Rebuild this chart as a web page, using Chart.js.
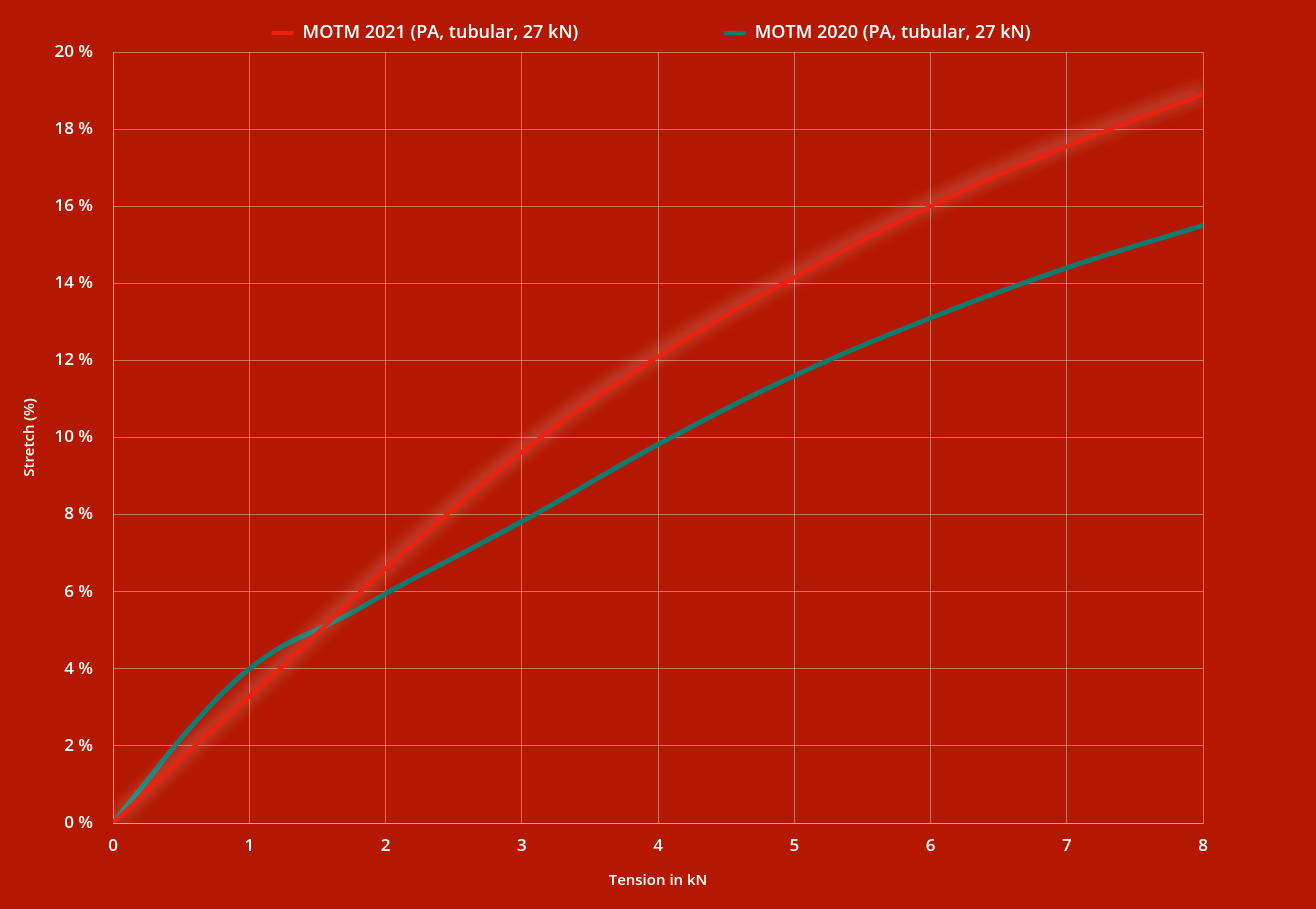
<!DOCTYPE html>
<html>
<head>
<meta charset="utf-8">
<script src="https://cdn.jsdelivr.net/npm/chart.js@4"></script>
<style>
  html, body { margin: 0; padding: 0; background: #b41800; }
  #wrap { width: 1316px; height: 909px; }
</style>
</head>
<body>
<div id="wrap"><canvas id="stretch-chart"></canvas></div>
<script>
    "use strict";

    // Data
    var tension   = [0, 0.25, 0.5, 0.75, 1, 1.25, 1.5, 1.75, 2, 3, 4, 5, 6, 7, 8];
    var motm2021  = [0, 0.83, 1.67, 2.48, 3.28, 4.08, 4.93, 5.77, 6.6, 9.62, 12.1, 14.15, 16.0, 17.55, 18.9];
    var motm2020  = [0, 1.1, 2.2, 3.18, 4.0, 4.6, 5.02, 5.45, 5.95, 7.82, 9.82, 11.6, 13.1, 14.4, 15.5];
    var seriesNames = ["MOTM 2021 (PA, tubular, 27 kN)", "MOTM 2020 (PA, tubular, 27 kN)"];
    var xTicks = [0, 1, 2, 3, 4, 5, 6, 7, 8];
    var yTicks = [0, 2, 4, 6, 8, 10, 12, 14, 16, 18, 20];

    var RED = "#ee2010";
    var TEAL = "#0e7b71";
    var GRID = "rgba(255, 255, 255, 0.38)";
    var FONT = "'Open Sans'";

    function toPoints(xs, ys) {
        return xs.map(function (x, i) { return {x: x, y: ys[i]}; });
    }

    // Glow under the 2021 curve
    var glowPlugin = {
        id: "glow",
        beforeDatasetDraw: function (chart, args) {
            if (args.index === 0) {
                var ctx = chart.ctx;
                ctx.save();
                ctx.shadowColor = "rgba(255, 255, 255, 0.65)";
                ctx.shadowBlur = 16;
                ctx.shadowOffsetX = 2;
                ctx.shadowOffsetY = -4;
            }
        },
        afterDatasetDraw: function (chart, args) {
            if (args.index === 0) {
                chart.ctx.restore();
            }
        }
    };

    var ctx = document.getElementById("stretch-chart").getContext("2d");
    var myChart = new Chart(ctx, {
        type: "line",
        data: {
            datasets: [{
                label: seriesNames[0],
                data: toPoints(tension, motm2021),
                borderColor: RED,
                backgroundColor: RED,
                borderWidth: 4,
                pointRadius: 0,
                tension: 0.4,
                fill: false
            }, {
                label: seriesNames[1],
                data: toPoints(tension, motm2020),
                borderColor: TEAL,
                backgroundColor: TEAL,
                borderWidth: 5,
                pointRadius: 0,
                tension: 0.4,
                fill: false
            }]
        },
        options: {
            responsive: true,
            maintainAspectRatio: false,
            animation: false,
            layout: {
                padding: {left: 14, right: 14, top: 14, bottom: 15}
            },
            plugins: {
                tooltip: {enabled: false},
                legend: {
                    position: "top",
                    labels: {
                        color: "#ffffff",
                        font: {family: FONT, size: 18, weight: "600"},
                        boxWidth: 22,
                        boxHeight: 4,
                        padding: 10,
                        generateLabels: function (chart) {
                            return chart.data.datasets.map(function (ds, i) {
                                var pad = i === 0 ? "                             " : "   ";
                                return {
                                    text: ds.label + pad,
                                    fillStyle: ds.borderColor,
                                    strokeStyle: ds.borderColor,
                                    lineWidth: 0,
                                    fontColor: "#ffffff",
                                    datasetIndex: i
                                };
                            });
                        }
                    }
                }
            },
            scales: {
                x: {
                    type: "linear",
                    min: 0,
                    max: 8,
                    afterBuildTicks: function (axis) {
                        axis.ticks = xTicks.map(function (v) { return {value: v}; });
                    },
                    afterFit: function (axis) {
                        axis.height = 71;
                    },
                    grid: {color: GRID, drawTicks: false},
                    border: {color: GRID},
                    ticks: {
                        color: "#ffffff",
                        font: {family: FONT, size: 17, weight: "600"},
                        padding: 13
                    },
                    title: {
                        display: true,
                        text: "Tension in kN",
                        color: "#ffffff",
                        font: {family: FONT, size: 15, weight: "600"},
                        padding: {top: 16, bottom: 4}
                    }
                },
                y: {
                    type: "linear",
                    min: 0,
                    max: 20,
                    afterBuildTicks: function (axis) {
                        axis.ticks = yTicks.map(function (v) { return {value: v}; });
                    },
                    afterFit: function (axis) {
                        axis.width = 99;
                    },
                    grid: {color: GRID, drawTicks: false},
                    border: {color: GRID},
                    ticks: {
                        color: "#ffffff",
                        font: {family: FONT, size: 17, weight: "600"},
                        padding: 20,
                        callback: function (v) { return v + " %"; }
                    },
                    title: {
                        display: true,
                        text: "Stretch (%)",
                        color: "#ffffff",
                        font: {family: FONT, size: 15, weight: "600"},
                        padding: {top: 7, bottom: 10}
                    }
                },
                // empty right-hand axis, only keeps the free margin right of the plot
                yRight: {
                    position: "right",
                    display: true,
                    grid: {display: false},
                    border: {display: false},
                    ticks: {display: false},
                    afterFit: function (axis) {
                        axis.width = 99;
                    }
                }
            }
        },
        plugins: [glowPlugin]
    });
</script>
</body>
</html>
